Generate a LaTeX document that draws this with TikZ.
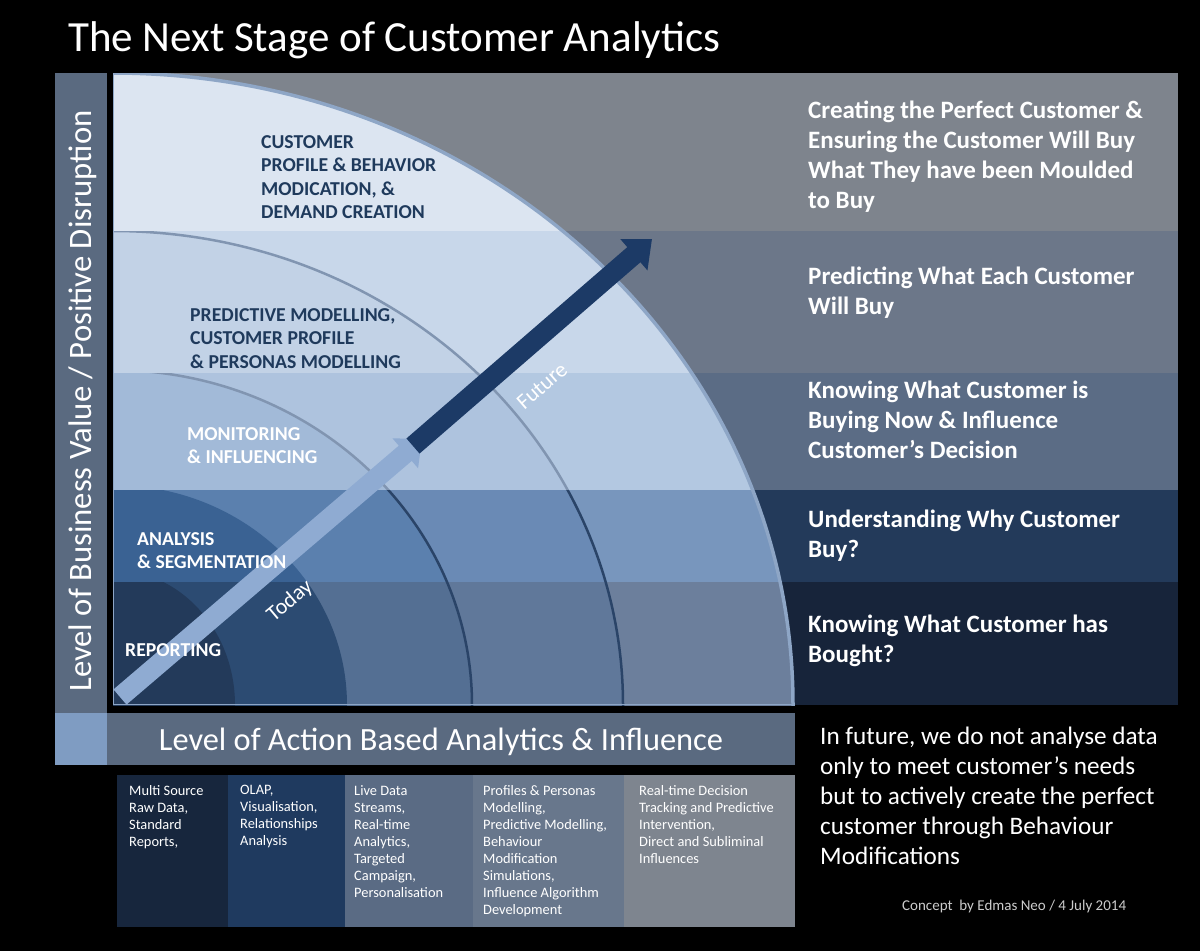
\documentclass[tikz,border=0pt]{standalone}
\usepackage{fontspec}
\setmainfont{Carlito}
\usetikzlibrary{arrows.meta}

\definecolor{bandA}{HTML}{7E848D}
\definecolor{bandB}{HTML}{6C7789}
\definecolor{bandC}{HTML}{5B6C85}
\definecolor{bandD}{HTML}{233A5A}
\definecolor{bandE}{HTML}{17243A}
\definecolor{discAa}{HTML}{DCE5F1}
\definecolor{discBa}{HTML}{C8D7EA}
\definecolor{discBb}{HTML}{C2D2E6}
\definecolor{discCa}{HTML}{B3C8E1}
\definecolor{discCb}{HTML}{AEC3DE}
\definecolor{discCc}{HTML}{A2BAD8}
\definecolor{discDa}{HTML}{7896BD}
\definecolor{discDb}{HTML}{6A8AB5}
\definecolor{discDc}{HTML}{5B80AE}
\definecolor{discDd}{HTML}{3A6293}
\definecolor{discEa}{HTML}{6C7F9C}
\definecolor{discEb}{HTML}{60789A}
\definecolor{discEc}{HTML}{546F93}
\definecolor{discEd}{HTML}{2C4B72}
\definecolor{discEe}{HTML}{233A5A}
\definecolor{axisgrey}{HTML}{5A6A80}
\definecolor{axislight}{HTML}{7F9CC2}
\definecolor{arclight}{HTML}{8EA6C6}
\definecolor{arcgrey}{HTML}{8195B1}
\definecolor{arcdark}{HTML}{2A4468}
\definecolor{todayblue}{HTML}{8FABD2}
\definecolor{futureblue}{HTML}{1C3A66}
\definecolor{labelnavy}{HTML}{1F3A5C}
\definecolor{cellA}{HTML}{17263D}
\definecolor{cellB}{HTML}{1F3A5F}
\definecolor{cellC}{HTML}{5A6B84}
\definecolor{cellD}{HTML}{68778C}
\definecolor{cellE}{HTML}{7E858F}

% ellipse radii of the five levels, centred at the chart corner
\tikzset{
  levA/.style={x radius=680pt, y radius=632pt},
  levB/.style={x radius=510pt, y radius=474pt},
  levC/.style={x radius=359pt, y radius=335pt},
  levD/.style={x radius=234pt, y radius=220pt},
  levE/.style={x radius=122pt, y radius=135pt}
}

\begin{document}
\begin{tikzpicture}[x=1pt, y=-1pt]
  \tikzstyle{lvltext} = [anchor=north west, align=left, inner sep=0pt, font=\bfseries\fontsize{19.7}{23.5}\selectfont]
  \tikzstyle{goaltext} = [anchor=north west, align=left, inner sep=0pt, text=white, font=\bfseries\fontsize{25}{30}\selectfont]
  \tikzstyle{celltext} = [anchor=north west, align=left, inner sep=0pt, text=white, font=\fontsize{14.4}{17}\selectfont]
  \tikzstyle{arcline} = [line width=2.5pt]
  \tikzstyle{bigarrow} = [line width=20pt]

  \fill[black] (0,0) rectangle (1200,951);
  \useasboundingbox (0,0) rectangle (1200,951);

  % title
  \node[anchor=base west, inner sep=0pt, text=white, font=\fontsize{43}{50}\selectfont] (title) at (68,51) {The Next Stage of Customer Analytics};

  % axes
  \fill[axisgrey] (55,73) rectangle (107,713);
  \fill[axisgrey] (55,713) rectangle (795,765);
  \fill[axislight] (55,713) rectangle (107,765);
  \node[rotate=90, anchor=base, inner sep=0pt, text=white, font=\fontsize{32.7}{36}\selectfont] (yaxis) at (91,401) {Level of Business Value / Positive Disruption};
  \node[anchor=base, inner sep=0pt, text=white, font=\fontsize{32.4}{36}\selectfont] (xaxis) at (441,750) {Level of Action Based Analytics \& Influence};

  % band 1
  \begin{scope}
    \clip (113,73) rectangle (1178,231);
    \fill[bandA] (113,73) rectangle (1178,231);
    \fill[discAa] (113,705) ellipse [levA];
  \end{scope}
  % band 2
  \begin{scope}
    \clip (113,231) rectangle (1178,373);
    \fill[bandB] (113,231) rectangle (1178,373);
    \fill[discBa] (113,705) ellipse [levA];
    \fill[discBb] (113,705) ellipse [levB];
    \draw[arcline, arcgrey] (113,705) ellipse [levB];
  \end{scope}
  % band 3
  \begin{scope}
    \clip (113,373) rectangle (1178,490);
    \fill[bandC] (113,373) rectangle (1178,490);
    \fill[discCa] (113,705) ellipse [levA];
    \fill[discCb] (113,705) ellipse [levB];
    \fill[discCc] (113,705) ellipse [levC];
    \draw[arcline, arcgrey] (113,705) ellipse [levB];
    \draw[arcline, arcgrey] (113,705) ellipse [levC];
  \end{scope}
  % band 4
  \begin{scope}
    \clip (113,490) rectangle (1178,582);
    \fill[bandD] (113,490) rectangle (1178,582);
    \fill[discDa] (113,705) ellipse [levA];
    \fill[discDb] (113,705) ellipse [levB];
    \fill[discDc] (113,705) ellipse [levC];
    \fill[discDd] (113,705) ellipse [levD];
    \draw[arcline, arcdark] (113,705) ellipse [levB];
    \draw[arcline, arcdark] (113,705) ellipse [levC];
  \end{scope}
  % band 5
  \begin{scope}
    \clip (113,582) rectangle (1178,705);
    \fill[bandE] (113,582) rectangle (1178,705);
    \fill[discEa] (113,705) ellipse [levA];
    \fill[discEb] (113,705) ellipse [levB];
    \fill[discEc] (113,705) ellipse [levC];
    \fill[discEd] (113,705) ellipse [levD];
    \fill[discEe] (113,705) ellipse [levE];
    \draw[arcline, arcdark] (113,705) ellipse [levB];
    \draw[arcline, arcdark] (113,705) ellipse [levC];
  \end{scope}
  % outer rim
  \begin{scope}
    \clip (113,73) rectangle (1178,705);
    \draw[line width=3.5pt, arclight] (113,705) ellipse [levA];
  \end{scope}
  \draw[line width=1.5pt, arclight] (113.5,73) -- (113.5,704.5) -- (793,704.5);

  % level labels
  \node[lvltext, text=labelnavy] (demand) at (261,135) {CUSTOMER\\PROFILE \& BEHAVIOR\\MODICATION, \&\\DEMAND CREATION};
  \node[lvltext, text=labelnavy] (predict) at (190,308) {PREDICTIVE MODELLING,\\CUSTOMER PROFILE\\\& PERSONAS MODELLING};
  \node[lvltext, text=white] (monitor) at (187,427) {MONITORING\\\& INFLUENCING};

  % arrows
  \coordinate (today tail) at (120,697);
  \coordinate (today tip) at (422,439);
  \coordinate (future tail) at (413,446);
  \coordinate (future tip) at (652,239);
  \draw[bigarrow, todayblue, -{Triangle[width=38pt, length=22pt]}] (today tail) -- (today tip);
  \draw[bigarrow, futureblue, -{Triangle[width=40pt, length=24pt]}] (future tail) -- (future tip);
  \node[rotate=40, text=white, inner sep=0pt, font=\fontsize{22}{26}\selectfont] (today) at (290,601) {Today};
  \node[rotate=41, text=white, inner sep=0pt, font=\fontsize{22}{26}\selectfont] (future) at (542,386) {Future};
  \node[lvltext, text=white] (analysis) at (137,532) {ANALYSIS\\\& SEGMENTATION};
  \node[lvltext, text=white] (report) at (125,643) {REPORTING};

  % goals on the right
  \node[goaltext] (goalA) at (808,101) {Creating the Perfect Customer \&\\Ensuring the Customer Will Buy\\What They have been Moulded\\to Buy};
  \node[goaltext] (goalB) at (808,267) {Predicting What Each Customer\\Will Buy};
  \node[goaltext] (goalC) at (808,381) {Knowing What Customer is\\Buying Now \& Influence\\Customer’s Decision};
  \node[goaltext] (goalD) at (808,510) {Understanding Why Customer\\Buy?};
  \node[goaltext] (goalE) at (808,615) {Knowing What Customer has\\Bought?};

  % capability table
  \fill[cellA] (117,775) rectangle (228,927);
  \fill[cellB] (228,775) rectangle (345,927);
  \fill[cellC] (345,775) rectangle (473,927);
  \fill[cellD] (473,775) rectangle (624,927);
  \fill[cellE] (624,775) rectangle (795,927);
  \node[celltext] (cellA) at (129,785) {Multi Source\\Raw Data,\\Standard\\Reports,};
  \node[celltext] (cellB) at (240,785) {OLAP,\\Visualisation,\\Relationships\\Analysis};
  \node[celltext] (cellC) at (354,785) {Live Data\\Streams,\\Real-time\\Analytics,\\Targeted\\Campaign,\\Personalisation};
  \node[celltext] (cellD) at (483,785) {Profiles \& Personas\\Modelling,\\Predictive Modelling,\\Behaviour\\Modification\\Simulations,\\Influence Algorithm\\Development};
  \node[celltext] (cellE) at (639,785) {Real-time Decision\\Tracking and Predictive\\Intervention,\\Direct and Subliminal\\Influences};

  % closing note
  \node[anchor=north west, align=left, inner sep=0pt, text=white, font=\fontsize{25.2}{30}\selectfont] (note) at (820,727) {In future, we do not analyse data\\only to meet customer’s needs\\but to actively create the perfect\\customer through Behaviour\\Modifications};
  \node[anchor=base west, inner sep=0pt, text=white!80!black, font=\fontsize{15}{17}\selectfont] (credit) at (902,910) {Concept \ by Edmas Neo / 4 July 2014};
\end{tikzpicture}
\end{document}
